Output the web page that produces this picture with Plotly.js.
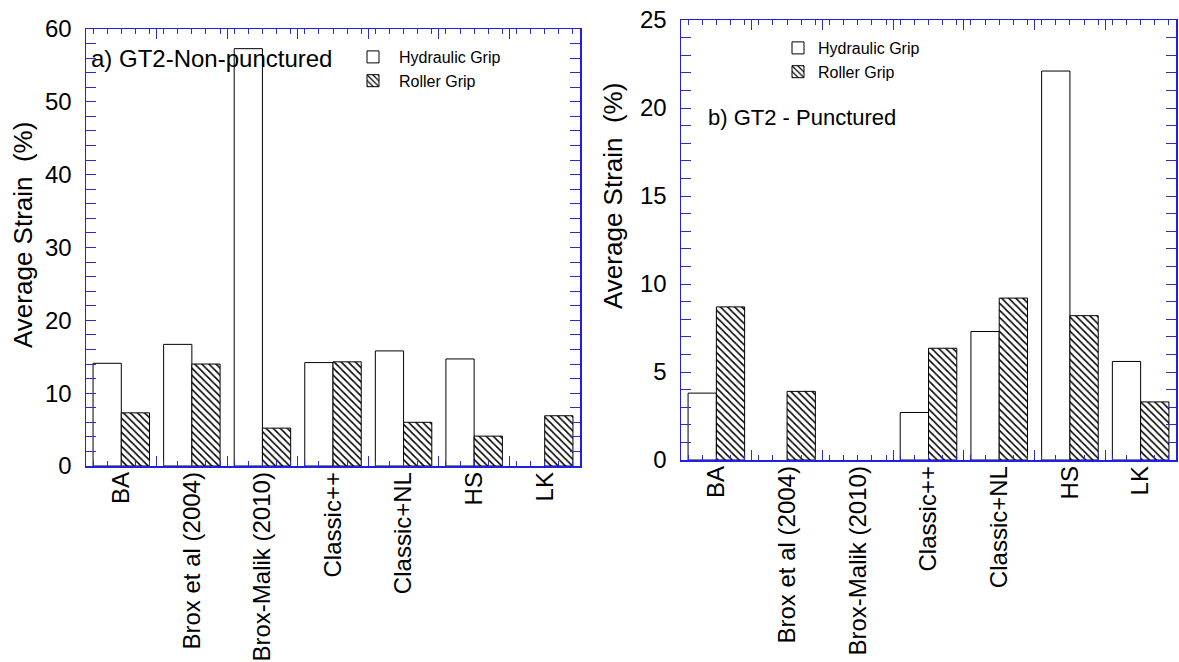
<!DOCTYPE html>
<html><head><meta charset="utf-8">
<script src="https://cdn.plot.ly/plotly-3.0.1.min.js"></script>
<style>html,body{margin:0;padding:0;background:#fff;} #chart{width:1179px;height:662px;}</style>
</head><body><div id="chart"></div>
<script>
const categories = ["BA", "Brox et al (2004)", "Brox-Malik (2010)", "Classic++", "Classic+NL", "HS", "LK"];
const nonPuncturedHydraulic = [14.1, 16.7, 57.3, 14.2, 15.8, 14.7, null];
const nonPuncturedRoller = [7.3, 14.0, 5.2, 14.3, 6.0, 4.1, 6.9];
const puncturedHydraulic = [3.8, null, null, 2.7, 7.3, 22.1, 5.6];
const puncturedRoller = [8.7, 3.9, null, 6.35, 9.2, 8.2, 3.3];
const seriesNames = ["Hydraulic Grip", "Roller Grip"];
const panelTitles = ["a) GT2-Non-punctured", "b) GT2 - Punctured"];
const yTitle = "Average Strain\u00a0 (%)";

const W = 1179, H = 662;
const FONT = "Arial, 'Liberation Sans', sans-serif";
const BLUE = "#1f1fe6";
const TICKBLUE = "#2a2ad8";
const pos = categories.map((_, i) => i);

function hx(a, b) { return [a / W, b / W]; }
function hy(top, bottom) { return [1 - bottom / H, 1 - top / H]; }

function hydraulic(vals, xa, ya, legend) {
  return { type: "bar", name: seriesNames[0], x: pos, y: vals, xaxis: xa, yaxis: ya, legend: legend,
    marker: { color: "#ffffff", line: { color: "#000000", width: 1 } }, hoverinfo: "y" };
}
function roller(vals, xa, ya, legend) {
  return { type: "bar", name: seriesNames[1], x: pos, y: vals, xaxis: xa, yaxis: ya, legend: legend,
    marker: { color: "#ffffff", line: { color: "#000000", width: 1 },
      pattern: { shape: "\\", fgcolor: "#000000", bgcolor: "#ffffff", size: 5, solidity: 0.3 } }, hoverinfo: "y" };
}
function tickHolder(xa, ya) {
  return { type: "scatter", x: [], y: [], xaxis: xa, yaxis: ya, showlegend: false, hoverinfo: "skip" };
}

const data = [
  hydraulic(nonPuncturedHydraulic, "x", "y", "legend"),
  roller(nonPuncturedRoller, "x", "y", "legend"),
  hydraulic(puncturedHydraulic, "x2", "y2", "legend2"),
  roller(puncturedRoller, "x2", "y2", "legend2"),
  tickHolder("x3", "y"),
  tickHolder("x4", "y2")
];

function labelAxis(domain, anchor) {
  return { domain: domain, anchor: anchor, range: [-0.5, 6.5], tickvals: pos, ticktext: categories,
    ticks: "", tickangle: -90, tickfont: { family: FONT, size: 24, color: "#000" }, ticklabelstandoff: -5,
    showline: true, linecolor: BLUE, linewidth: 1.5, mirror: true, showgrid: false, zeroline: false };
}
function tickAxis(domain, anchor) {
  return { domain: domain, anchor: anchor, range: [-0.5, 6.5], tick0: -0.5, dtick: 1, mirror: "allticks",
    ticks: "inside", ticklen: 10, tickcolor: TICKBLUE,
    minor: { dtick: 0.2, ticks: "inside", ticklen: 5, tickcolor: TICKBLUE },
    showticklabels: false, showline: false, showgrid: false, zeroline: false };
}
function valueAxis(domain, anchor, max, step, minorStep) {
  return { domain: domain, anchor: anchor, range: [0, max], dtick: step, mirror: "allticks",
    ticks: "inside", ticklen: 10, tickcolor: TICKBLUE, ticklabelstandoff: 8,
    minor: { dtick: minorStep, ticks: "inside", ticklen: 5, tickcolor: TICKBLUE },
    tickfont: { family: FONT, size: 24, color: "#000" },
    showline: true, linecolor: BLUE, linewidth: 1.5, showgrid: false, zeroline: false };
}

const layout = {
  width: W, height: H, margin: { l: 0, r: 0, t: 0, b: 0 },
  paper_bgcolor: "#fff", plot_bgcolor: "rgba(0,0,0,0)",
  font: { family: FONT, color: "#000" },
  barmode: "group", bargap: 0.2, bargroupgap: 0,
  xaxis: labelAxis(hx(86, 580), "y"),
  yaxis: valueAxis(hy(29, 466), "x", 60, 10, 2),
  xaxis3: tickAxis(hx(86, 580), "y"),
  xaxis2: labelAxis(hx(681, 1176), "y2"),
  yaxis2: valueAxis(hy(20, 460), "x2", 25, 5, 1),
  xaxis4: tickAxis(hx(681, 1176), "y2"),
  legend: { x: 347 / W, y: 1 - 40 / H, xanchor: "left", yanchor: "top", bgcolor: "rgba(0,0,0,0)",
    itemwidth: 42, font: { family: FONT, size: 16, color: "#000" } },
  legend2: { x: 778 / W, y: 1 - 31 / H, xanchor: "left", yanchor: "top", bgcolor: "rgba(0,0,0,0)",
    font: { family: FONT, size: 16, color: "#000" } },
  annotations: [
    { text: panelTitles[0], xref: "paper", yref: "paper", x: 89 / W, y: 1 - 58 / H, xanchor: "left", yanchor: "middle",
      showarrow: false, font: { family: FONT, size: 24, color: "#000" } },
    { text: panelTitles[1], xref: "paper", yref: "paper", x: 706 / W, y: 1 - 118 / H, xanchor: "left", yanchor: "middle",
      showarrow: false, font: { family: FONT, size: 22, color: "#000" } },
    { text: yTitle, xref: "paper", yref: "paper", x: 23 / W, y: 1 - 235 / H, xanchor: "center", yanchor: "middle",
      textangle: -90, showarrow: false, font: { family: FONT, size: 26, color: "#000" } },
    { text: yTitle, xref: "paper", yref: "paper", x: 613 / W, y: 1 - 196 / H, xanchor: "center", yanchor: "middle",
      textangle: -90, showarrow: false, font: { family: FONT, size: 26, color: "#000" } }
  ],
  showlegend: true
};

Plotly.newPlot("chart", data, layout, { staticPlot: true, displayModeBar: false });
</script>
</body></html>
